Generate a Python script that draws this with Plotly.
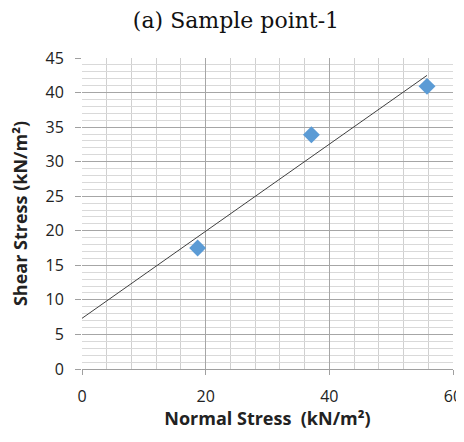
import numpy as np
import plotly.graph_objects as go

normal_stress = [18.7, 37.1, 55.8]
shear_stress = [17.5, 33.9, 40.9]
x_ticks = [0, 20, 40, 60]
y_ticks = [0, 5, 10, 15, 20, 25, 30, 35, 40, 45]

slope, intercept = np.polyfit(normal_stress, shear_stress, 1)
trend_x = [0, max(normal_stress)]
trend_y = [intercept + slope * v for v in trend_x]

fig = go.Figure()
fig.add_trace(go.Scatter(x=trend_x, y=trend_y, mode="lines",
                         line=dict(color="#404040", width=1), showlegend=False,
                         hoverinfo="skip"))
fig.add_trace(go.Scatter(x=normal_stress, y=shear_stress, mode="markers",
                         marker=dict(symbol="diamond", size=13, color="#5B9BD5"),
                         showlegend=False))

# page body has an 8px margin, so the figure is sized to fit the window
fig.update_layout(
    width=456, height=422,
    margin=dict(l=74, r=11, t=50, b=61, autoexpand=False),
    paper_bgcolor="white", plot_bgcolor="white",
    title=dict(text="(a) Sample point-1", x=0.5, xanchor="center", y=0.99, yanchor="top",
               font=dict(family="DejaVu Serif", size=22, color="#111111")),
    font=dict(family="Open Sans", size=16, color="#222222"),
)
fig.update_xaxes(
    range=[0, 60], tickvals=x_ticks, ticks="outside", ticklen=5, tickcolor="#a0a0a0",
    showgrid=True, gridcolor="#a6a6a6", gridwidth=1,
    minor=dict(dtick=4, showgrid=True, gridcolor="#d0d0d0", gridwidth=1),
    showline=True, linecolor="#a0a0a0", zeroline=False, automargin=False,
    ticklabelstandoff=8, ticklabeloverflow="allow",
    title=dict(text="<b>Normal Stress  (kN/m²)</b>", font=dict(size=18), standoff=5),
    tickfont=dict(size=16),
)
fig.update_yaxes(
    range=[0, 45], tickvals=y_ticks, ticks="outside", ticklen=6, tickcolor="#a0a0a0",
    showgrid=True, gridcolor="#a6a6a6", gridwidth=1,
    minor=dict(dtick=1, showgrid=True, gridcolor="#d9d9d9", gridwidth=1),
    showline=False, zeroline=False, automargin=False,
    ticklabelstandoff=8,
    title=dict(text="<b>Shear Stress (kN/m²)</b>", font=dict(size=18), standoff=14),
    tickfont=dict(size=16),
)
fig.write_html("out.html")
